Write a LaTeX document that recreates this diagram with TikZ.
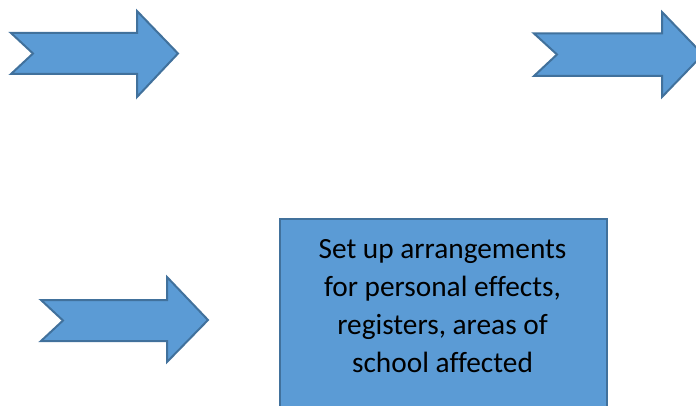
\documentclass[tikz,border=0pt]{standalone}
\usepackage{fontspec}
\setmainfont[Ligatures=NoCommon]{Carlito}
\begin{document}
\begin{tikzpicture}[x=0.75pt,y=-0.75pt,
  shp/.style={fill=blueA,draw=blueB,line width=1.5pt,line join=miter},
  boxtext/.style={font=\fontsize{22}{28.5}\selectfont,align=center,text=black,inner sep=0pt}]
\definecolor{blueA}{HTML}{5B9BD5}
\definecolor{blueB}{HTML}{41719C}
\useasboundingbox (0,0) rectangle (696,406);
\clip (0,0) rectangle (696,406);
% arrow 1
\draw[shp] (11,33) -- (137,33) -- (137,11) -- (178,53.5) -- (137,97) -- (137,74) -- (11,74) -- (33,53.5) -- cycle;
% arrow 2
\draw[shp] (534,33.5) -- (662,33.5) -- (662,12) -- (703,54.5) -- (662,97) -- (662,76) -- (534,76) -- (557,54.5) -- cycle;
% arrow 3
\draw[shp] (41,300) -- (167,300) -- (167,277) -- (208,320) -- (167,362) -- (167,341) -- (41,341) -- (63,320.5) -- cycle;
% box
\node[shp,rectangle,anchor=north west,minimum width=327*0.75pt,minimum height=220*0.75pt,inner sep=0pt] (box) at (279,218) {};
\node[boxtext,anchor=base] (txt) at (442.5,372) {Set up arrangements\\for personal effects,\\registers, areas of\\school affected};
\end{tikzpicture}
\end{document}
